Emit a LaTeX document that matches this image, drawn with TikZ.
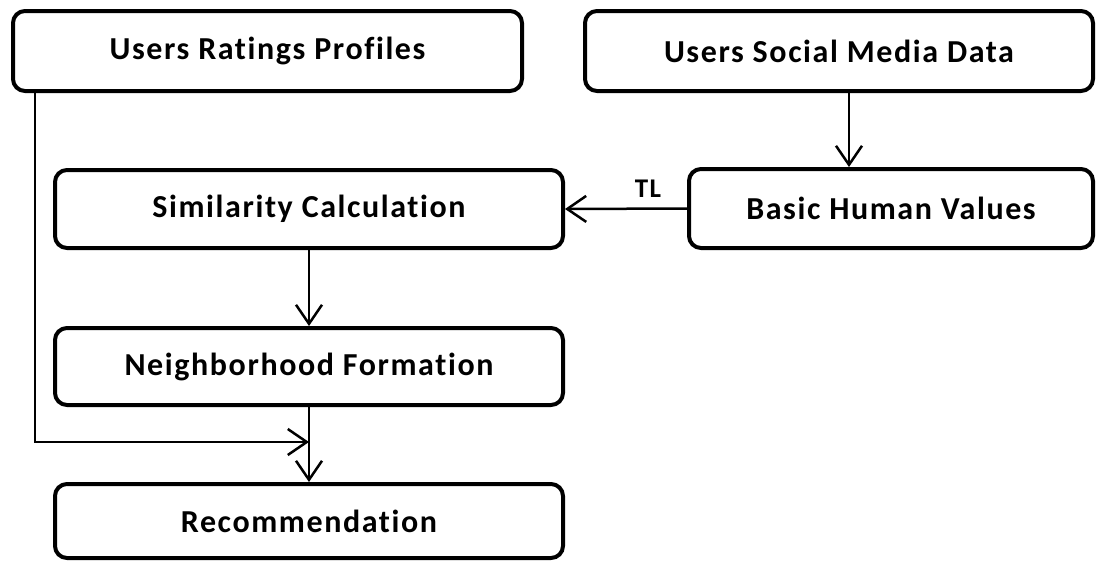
\documentclass[tikz,border=0pt]{standalone}
\usepackage{fontspec}
\setmainfont{Carlito}[Ligatures=NoCommon,LetterSpace=5]
\usetikzlibrary{arrows.meta,calc}
\begin{document}
\begin{tikzpicture}[x=1pt,y=-1pt,
  box/.style={draw,line width=4pt,rounded corners=12pt,inner sep=0pt,
    font=\fontsize{32}{36}\selectfont\bfseries,align=center},
  arr/.style={line width=2.5pt,-{Straight Barb[length=19pt,width=26pt,line width=2.5pt]}},
  lbl/.style={font=\fontsize{27}{30}\selectfont\bfseries}]
\useasboundingbox[fill=white] (0,0) rectangle (1101,562);
\node[box,minimum width=509pt,minimum height=80pt] (b1) at (267.5,51) {Users Ratings Profiles};
\node[box,minimum width=508pt,minimum height=80pt] (b2) at (839,51) {Users Social Media Data};
\node[box,minimum width=508pt,minimum height=78pt] (sim) at (309,209) {Similarity Calculation};
\node[box,minimum width=404pt,minimum height=79pt] (bhv) at (891,208.5) {Basic Human Values};
\node[box,minimum width=508pt,minimum height=77pt] (nf) at (309,366.5) {Neighborhood Formation};
\node[box,minimum width=508pt,minimum height=74pt] (rec) at (309,521) {Recommendation};
\draw[arr] (bhv.west) -- node[lbl,above=7pt,xshift=22pt] {TL} (sim.east);
\draw[arr] ([xshift=10pt]b2.south) -- ([xshift=10pt]b2.south |- bhv.north);
\draw[arr] (sim.south) -- (nf.north);
\draw[arr] (nf.south) -- (rec.north);
\path (nf.south) ++(0,35) coordinate (j);
\draw[arr] ([xshift=-232.5pt]b1.south) |- (j);
\end{tikzpicture}
\end{document}
